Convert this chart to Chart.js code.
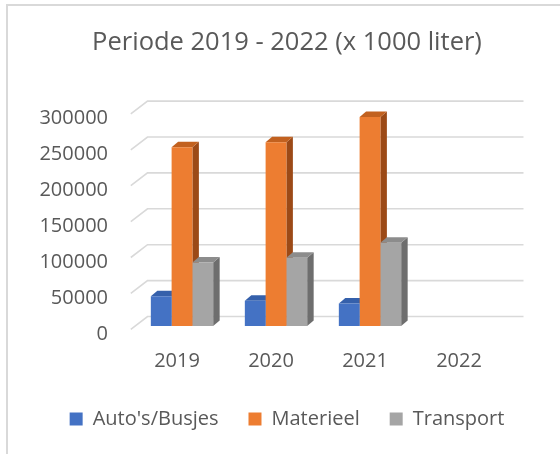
<!DOCTYPE html>
<html>
<head>
<meta charset="utf-8">
<script src="https://cdn.jsdelivr.net/npm/chart.js@4.4.0/dist/chart.umd.min.js"></script>
<style>
	body { margin: 0; background: #fff; }
	canvas { display: block; }
</style>
</head>
<body>
<canvas id="fuelChart" width="560" height="454"></canvas>
<script>
// values in 1000 liter
var years = ['2019', '2020', '2021', '2022'];
var autos = [41500, 35000, 31500, null];
var materieel = [249000, 256000, 291000, null];
var transport = [88500, 95000, 116000, null];

var textColor = '#595959';
var gridColor = '#d9d9d9';
var font = "'Open Sans', sans-serif";

// depth of the fake 3d boxes / walls
var depth = {dx: 6.5, dy: -5.5};
var wallBack = {dx: 12.5, dy: -9.5};
var wallFront = {dx: -4.2, dy: 3.3};

var shades = [
	{side: '#2f528f', top: '#3560ab'},
	{side: '#9c4a17', top: '#c2611f'},
	{side: '#6e6e6e', top: '#8c8c8c'}
];

function poly(ctx, pts, color){
	ctx.beginPath();
	ctx.moveTo(pts[0][0], pts[0][1]);
	for(var i = 1; i < pts.length; i++)
		ctx.lineTo(pts[i][0], pts[i][1]);
	ctx.closePath();
	ctx.fillStyle = color;
	ctx.fill();
}

var frame3d = {
	id: 'frame3d',
	beforeDraw: function(chart){
		var ctx = chart.ctx;
		ctx.save();
		ctx.strokeStyle = gridColor;
		ctx.lineWidth = 2;
		ctx.beginPath();
		ctx.moveTo(7, 454);
		ctx.lineTo(7, 5);
		ctx.lineTo(560, 5);
		ctx.stroke();
		ctx.restore();
	},
	beforeDatasetsDraw: function(chart){
		var ctx = chart.ctx;
		var area = chart.chartArea;
		var yScale = chart.scales.y;
		ctx.save();
		// walls: back lines + diagonal on the left side
		ctx.strokeStyle = gridColor;
		ctx.lineWidth = 1.6;
		yScale.ticks.forEach(function(t){
			var y = yScale.getPixelForValue(t.value);
			ctx.beginPath();
			ctx.moveTo(area.left + wallFront.dx, y + wallFront.dy);
			ctx.lineTo(area.left + wallBack.dx, y + wallBack.dy);
			ctx.lineTo(area.right + wallBack.dx, y + wallBack.dy);
			ctx.stroke();
		});
		// side and top faces, fronts drawn later by Chart.js
		var metas = chart.data.datasets.map(function(d, i){ return chart.getDatasetMeta(i); });
		for(var c = 0; c < years.length; c++){
			for(var s = 0; s < metas.length; s++){
				var bar = metas[s].data[c];
				if(!bar || chart.data.datasets[s].data[c] == null)
					continue;
				var p = bar.getProps(['x', 'y', 'base', 'width'], true);
				var x1 = p.x - p.width / 2, x2 = p.x + p.width / 2;
				poly(ctx, [[x2, p.base], [x2, p.y], [x2 + depth.dx, p.y + depth.dy], [x2 + depth.dx, p.base + depth.dy]], shades[s].side);
				poly(ctx, [[x1, p.y], [x2, p.y], [x2 + depth.dx, p.y + depth.dy], [x1 + depth.dx, p.y + depth.dy]], shades[s].top);
			}
		}
		ctx.restore();
	}
};

var chart = new Chart(document.getElementById('fuelChart'), {
	type: 'bar',
	data: {
		labels: years,
		datasets: [
			{label: "Auto's/Busjes", data: autos, backgroundColor: '#4472c4'},
			{label: 'Materieel', data: materieel, backgroundColor: '#ed7d31'},
			{label: 'Transport', data: transport, backgroundColor: '#a5a5a5'}
		]
	},
	options: {
		responsive: false,
		animation: false,
		devicePixelRatio: 1,
		layout: {padding: {left: 14, right: 0, top: 0, bottom: 15}},
		datasets: {
			bar: {categoryPercentage: 0.663, barPercentage: 1.0, borderWidth: 0}
		},
		plugins: {
			title: {
				display: true,
				text: 'Periode 2019 - 2022 (x 1000 liter)',
				color: textColor,
				font: {family: font, size: 25.5, weight: 'normal'},
				padding: {top: 27, bottom: 53}
			},
			legend: {
				position: 'bottom',
				labels: {
					color: textColor,
					font: {family: font, size: 20},
					boxWidth: 13,
					boxHeight: 13,
					padding: 30
				}
			},
			tooltip: {enabled: false}
		},
		scales: {
			x: {
				grid: {display: false, drawTicks: false},
				border: {display: false},
				ticks: {color: textColor, font: {family: font, size: 20}, padding: 23, labelOffset: -5},
				afterFit: function(scale){ scale.height = 53; }
			},
			y: {
				min: 0,
				max: 300000,
				grid: {display: false, drawTicks: false},
				border: {display: false},
				ticks: {
					stepSize: 50000,
					color: textColor,
					font: {family: font, size: 20},
					padding: 27,
					labelOffset: 8,
					callback: function(v){ return String(v); }
				},
				afterFit: function(scale){ scale.width = 121; }
			},
			// empty axis on the right, only keeps room for the depth of the walls
			yRight: {
				position: 'right',
				grid: {display: false, drawTicks: false},
				border: {display: false},
				ticks: {display: false},
				afterFit: function(scale){ scale.width = 49; }
			}
		}
	},
	plugins: [frame3d]
});
console.log('fuelChart was built', chart.chartArea);
</script>
</body>
</html>
